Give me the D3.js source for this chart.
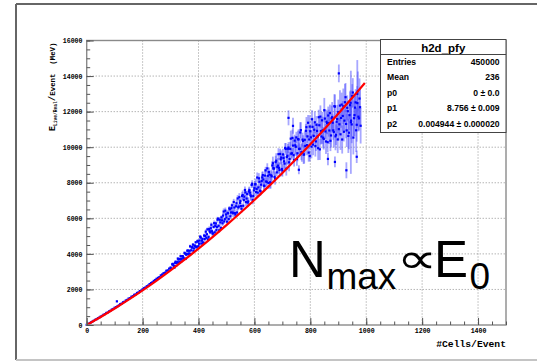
<!DOCTYPE html>
<html>
<head>
<meta charset="utf-8">
<script src="https://cdn.jsdelivr.net/npm/d3@7"></script>
<style>
  body { margin: 0; background: #fff; }
  text { white-space: pre; }
</style>
</head>
<body>
<div id="chart"></div>
<script>
// profile bins: cells per event, mean energy, error on mean
const cells = [0,5,10,15,20,25,30,35,40,45,50,55,60,65,70,75,80,85,90,95,
  100,105,110,115,120,125,130,135,140,145,150,155,160,165,170,175,180,185,190,195,
  200,205,210,215,220,225,230,235,240,245,250,255,260,265,270,275,280,285,290,295,
  300,304,308,312,316,320,324,328,332,336,340,344,348,352,356,360,364,368,372,376,
  380,384,388,392,396,400,404,408,412,416,420,424,428,432,436,440,444,448,452,456,
  460,464,468,472,476,480,484,488,492,496,500,504,508,512,516,520,524,528,532,536,
  540,544,548,552,556,560,564,568,572,576,580,584,588,592,596,600,604,608,612,616,
  620,624,628,632,636,640,644,648,652,656,660,664,668,672,676,680,684,688,692,696,
  700,704,708,712,716,720,724,728,732,736,740,744,748,752,756,760,764,768,772,776,
  780,784,788,792,796,800,804,808,812,816,820,824,828,832,836,840,844,848,852,856,
  860,864,868,872,876,880,884,888,892,896,900,904,908,912,916,920,924,928,932,936,
  940,944,948,952,956,960,964,968,972,976,980,
  108,722,738,759,798,863,888,902,929,945,966,968];
const energy = [10,50,92,148,186,238,290,326,384,418,478,512,574,612,678,702,768,804,872,902,
  972,1004,1052,1102,1174,1206,1278,1306,1380,1412,1488,1512,1590,1622,1698,1722,1802,1830,1908,1936,
  2010,2070,2110,2180,2220,2300,2360,2400,2480,2530,2600,2650,2690,2790,2840,2910,2940,3050,3070,3170,
  3230,3164,3435,3321,3495,3329,3538,3684,3563,3870,3719,3861,3723,4014,3955,4177,3989,4174,4003,4352,
  4519,4305,4442,4374,4710,4433,4748,4917,4740,4626,5029,5010,4906,5381,4952,5270,5442,5275,5145,5728,
  5574,5335,5920,5578,5919,5462,5886,6154,5824,6430,6047,6299,5958,6512,6329,6728,6288,6605,6213,6850,
  7117,6656,6868,6688,7254,6705,7218,7462,7115,6886,7509,7440,7240,7936,7256,7696,7920,7654,7445,8248,
  7555,7891,8300,8185,7821,8697,8044,8392,8605,8020,8419,8972,8824,8334,9160,8582,8962,8839,9620,9418,
  8690,9392,9076,9903,9446,9910,9150,9905,9634,10525,9550,10369,10022,9335,10450,9900,10828,9721,10429,9584,
  10416,10921,10114,11374,10436,10895,10032,11144,10635,11399,10326,10916,9942,11234,11720,10600,10952,10464,11610,10322,
  11348,11782,10940,10360,11622,11378,10852,12284,10697,11581,11976,11286,10724,12396,11756,10867,12528,11308,12216,10635,
  11802,12499,11280,13075,11630,12225,10950,12480,11715,12735,11205,
  1330,11650,11200,8730,9500,9340,9170,14150,8700,11400,9460,13000];
const energyErr = [15,15,15,18,18,18,20,20,20,20,22,22,22,22,24,24,24,25,25,25,
  26,26,26,26,28,28,28,28,30,30,30,30,32,32,32,32,34,34,34,34,
  36,36,36,36,38,38,40,40,40,42,42,44,44,46,46,48,48,50,50,52,
  55,46,70,54,67,44,84,66,58,79,71,58,89,68,85,55,105,82,71,98,
  87,71,108,83,102,67,126,100,87,121,107,87,134,103,129,83,157,124,107,148,
  131,106,163,124,155,100,189,148,128,175,155,126,193,149,185,120,226,177,154,212,
  187,152,232,177,220,142,268,209,181,248,219,178,270,206,255,165,312,244,212,291,
  258,210,320,245,304,197,372,290,251,344,304,247,376,286,354,229,432,336,290,397,
  350,285,434,330,410,265,500,391,337,462,408,331,504,383,474,306,576,449,386,529,
  466,378,574,435,538,350,660,516,445,612,540,438,667,508,629,406,764,596,513,704,
  620,502,763,580,717,462,868,676,581,796,700,572,876,671,836,543,1027,805,697,960,
  850,692,1056,806,1001,648,1222,955,825,1133,1000,
  40,420,450,250,300,350,300,500,450,2900,350,1900];

// the in-between bins of the upper range
const cellsMid = [302,306,310,314,318,322,326,330,334,338,342,346,350,354,358,362,366,370,374,378,
  382,386,390,394,398,402,406,410,414,418,422,426,430,434,438,442,446,450,454,458,
  462,466,470,474,478,482,486,490,494,498,502,506,510,514,518,522,526,530,534,538,
  542,546,550,554,558,562,566,570,574,578,582,586,590,594,598,602,606,610,614,618,
  622,626,630,634,638,642,646,650,654,658,662,666,670,674,678,682,686,690,694,698,
  702,706,710,714,718,722,726,730,734,738,742,746,750,754,758,762,766,770,774,778,
  782,786,790,794,798,802,806,810,814,818,822,826,830,834,838,842,846,850,854,858,
  862,866,870,874,878,882,886,890,894,898,902,906,910,914,918,922,926,930,934,938,
  942,946,950,954,958,962,966,970,974,978];
const energyMid = [3171,3409,3360,3233,3557,3486,3736,3502,3716,3578,3870,3782,4060,3725,3998,4185,4020,4424,4201,4380,
  4163,4466,4652,4403,4702,4571,4968,4582,4845,4625,4831,5248,5104,4811,5391,5209,5639,5150,5512,5212,
  5713,5510,5974,5326,5770,6056,5718,6382,5952,6215,5811,6285,6558,6114,6570,6330,6918,6299,6676,6328,
  6613,7187,6964,6536,7305,7035,7589,6912,7371,6951,7589,7300,7878,7027,7572,7913,7475,8293,7737,8055,
  7519,8103,8432,7840,8404,8072,8807,7990,8462,8004,8360,9096,8794,8231,9239,8883,9607,8720,9318,8774,
  9591,9204,9959,8792,9520,9979,9334,10480,9654,10090,9281,10105,10550,9656,10438,9912,10959,9700,10349,9592,
  10072,11125,10607,9696,11157,10551,11572,10146,10982,10062,11259,10599,11685,9878,10904,11510,10536,12080,10887,11431,
  10281,11352,11915,10659,11685,10946,12306,10609,11431,10436,11016,12339,11644,10433,12300,11491,12812,10944,12024,10814,
  12363,11498,12880,10540,11800,12520,11260,13150,11620,12250];
const energyErrMid = [50,68,44,64,81,51,65,77,48,77,65,88,56,81,101,64,81,95,60,95,
  79,107,68,98,122,77,99,116,72,117,97,133,85,121,153,96,123,144,89,143,
  119,162,103,146,185,115,147,171,106,169,141,192,122,174,220,138,175,205,127,202,
  168,228,145,206,259,162,205,239,148,235,195,264,167,237,298,190,242,283,176,281,
  234,318,202,288,361,226,288,336,208,331,275,373,236,336,421,263,334,389,240,382,
  318,431,273,389,489,306,388,452,279,446,370,500,317,449,564,352,446,520,320,509,
  422,570,361,510,640,403,512,598,370,590,490,662,420,596,749,467,592,690,426,678,
  562,758,480,680,853,531,672,782,482,766,637,868,554,791,998,626,798,935,580,927,
  772,1048,666,948,1193,746,948,1107,685,1092];

// pol2 fit curve as drawn
const fitCells = [0,50,100,150,200,250,300,350,400,450,500,550,600,650,700,750,800,850,900,950,995];
const fitEnergy = [0,450,925,1425,1949,2498,3072,3670,4293,4941,5614,6311,7033,7780,8552,9348,10169,11015,11885,12780,13607];

const xTicks = [0,200,400,600,800,1000,1200,1400];
const yTicks = [0,2000,4000,6000,8000,10000,12000,14000,16000];
const statTitle = 'h2d_pfy';
const statNames = ['Entries','Mean','p0','p1','p2'];
const statValues = ['450000','236','0 \u00b1 0.0','8.756 \u00b1 0.009','0.004944 \u00b1 0.000020'];

const width = 537, height = 362;
const frame = { left: 86.7, right: 506, top: 40.5, bottom: 325 };
const monoFont = '"Liberation Mono", "DejaVu Sans Mono", monospace';
const sansFont = '"Liberation Sans", Arial, sans-serif';

const svg = d3.select('#chart').append('svg')
  .attr('width', width)
  .attr('height', height);

// canvas border
svg.append('rect').attr('width', width).attr('height', height).attr('fill', '#fff');
svg.append('line').attr('x1', 16).attr('x2', width).attr('y1', 4).attr('y2', 4)
  .attr('stroke', '#666').attr('stroke-width', 2);
svg.append('line').attr('x1', 16).attr('x2', 16).attr('y1', 4).attr('y2', 360)
  .attr('stroke', '#666').attr('stroke-width', 2);
svg.append('line').attr('x1', 16).attr('x2', width).attr('y1', 360).attr('y2', 360)
  .attr('stroke', '#c4c4c4').attr('stroke-width', 2);

const x = d3.scaleLinear().domain([0, 1500]).range([frame.left, frame.right]);
const y = d3.scaleLinear().domain([0, 16000]).range([frame.bottom, frame.top]);

// grid
const grid = svg.append('g').attr('stroke', '#777').attr('stroke-width', 0.8)
  .attr('stroke-dasharray', '1,2');
grid.selectAll('.gx').data(xTicks.slice(1)).enter().append('line')
  .attr('x1', d => x(d)).attr('x2', d => x(d))
  .attr('y1', frame.top).attr('y2', frame.bottom);
grid.selectAll('.gy').data(yTicks.slice(1)).enter().append('line')
  .attr('x1', frame.left).attr('x2', frame.right)
  .attr('y1', d => y(d)).attr('y2', d => y(d));

// profile points
const pts = cells.map((c, i) => ({ c: c, e: energy[i], err: energyErr[i] }))
  .concat(cellsMid.map((c, i) => ({ c: c, e: energyMid[i], err: energyErrMid[i] })));
const data = svg.append('g');
data.selectAll('.err').data(pts).enter().append('line')
  .attr('x1', d => x(d.c)).attr('x2', d => x(d.c))
  .attr('y1', d => y(d.e - d.err)).attr('y2', d => y(d.e + d.err))
  .attr('stroke', '#5050ff').attr('stroke-opacity', 0.5).attr('stroke-width', 1.8);
data.selectAll('.pt').data(pts).enter().append('rect')
  .attr('x', d => x(d.c) - 1.1).attr('y', d => y(d.e) - 1.1)
  .attr('width', 2.2).attr('height', 2.2)
  .attr('fill', '#0000ff');

// fit
const line = d3.line().x(d => x(d[0])).y(d => y(d[1])).curve(d3.curveCatmullRom);
svg.append('path')
  .datum(fitCells.map((c, i) => [c, fitEnergy[i]]))
  .attr('d', line)
  .attr('fill', 'none')
  .attr('stroke', '#ff0000')
  .attr('stroke-width', 2.2);

// frame
svg.append('rect')
  .attr('x', frame.left).attr('y', frame.top)
  .attr('width', frame.right - frame.left).attr('height', frame.bottom - frame.top)
  .attr('fill', 'none').attr('stroke', '#8a8a8a').attr('stroke-width', 1.4);

// axes, ROOT style ticks inside the frame
function styleAxis(g) {
  g.select('.domain').remove();
  g.selectAll('.tick line').attr('stroke', '#555');
  g.selectAll('text')
    .attr('font-family', monoFont)
    .attr('font-weight', 'bold')
    .attr('font-size', '6.6px')
    .attr('fill', '#000');
}

svg.append('g')
  .attr('transform', `translate(0,${frame.bottom})`)
  .call(d3.axisBottom(x).tickValues(d3.range(0, 1501, 50)).tickSize(-3.5).tickFormat(''))
  .call(styleAxis);
svg.append('g')
  .attr('transform', `translate(0,${frame.bottom})`)
  .call(d3.axisBottom(x).tickValues(xTicks).tickSize(-7).tickPadding(3).tickFormat(d3.format('d')))
  .call(styleAxis);

svg.append('g')
  .attr('transform', `translate(${frame.left},0)`)
  .call(d3.axisLeft(y).tickValues(d3.range(0, 16001, 500)).tickSize(-3.5).tickFormat(''))
  .call(styleAxis);
svg.append('g')
  .attr('transform', `translate(${frame.left},0)`)
  .call(d3.axisLeft(y).tickValues(yTicks).tickSize(-7).tickPadding(4.2).tickFormat(d3.format('d')))
  .call(styleAxis);

// axis titles
svg.append('text')
  .attr('x', frame.right).attr('y', 347)
  .attr('text-anchor', 'end')
  .attr('font-family', monoFont).attr('font-weight', 'bold').attr('font-size', '9.7px')
  .text('#Cells/Event');

const yTitle = svg.append('text')
  .attr('transform', `translate(55,${frame.top + 2}) rotate(-90)`)
  .attr('text-anchor', 'end')
  .attr('font-family', monoFont).attr('font-weight', 'bold').attr('font-size', '7.4px');
yTitle.append('tspan').attr('font-size', '8.4px').text('E');
yTitle.append('tspan').attr('dy', 2).attr('font-size', '4.6px').text('Live/Real');
yTitle.append('tspan').attr('dy', -2).attr('font-size', '9px').text('/');
yTitle.append('tspan').text('Event  (MeV)');

// stats box
const box = { x: 380.5, y: 39.5, w: 125.5, h: 93 };
const stats = svg.append('g');
stats.append('rect')
  .attr('x', box.x).attr('y', box.y).attr('width', box.w).attr('height', box.h)
  .attr('fill', '#fff').attr('stroke', '#444').attr('stroke-width', 1);
stats.append('line')
  .attr('x1', box.x).attr('x2', box.x + box.w).attr('y1', 54.5).attr('y2', 54.5)
  .attr('stroke', '#444').attr('stroke-width', 1);
stats.append('text')
  .attr('x', box.x + box.w / 2).attr('y', 51.5)
  .attr('text-anchor', 'middle')
  .attr('font-family', sansFont).attr('font-weight', 'bold').attr('font-size', '11.5px')
  .text(statTitle);
statNames.forEach((n, i) => {
  const ty = 65 + i * 15.4;
  stats.append('text')
    .attr('x', 387).attr('y', ty)
    .attr('font-family', sansFont).attr('font-weight', 'bold').attr('font-size', '8.6px')
    .text(n);
  stats.append('text')
    .attr('x', 499.5).attr('y', ty)
    .attr('text-anchor', 'end')
    .attr('font-family', sansFont).attr('font-weight', 'bold').attr('font-size', '8.6px')
    .text(statValues[i]);
});

// annotation
const note = svg.append('text').attr('font-family', sansFont).attr('fill', '#000');
note.append('tspan').attr('x', 289).attr('y', 276.7).attr('font-size', '51px').text('N');
note.append('tspan').attr('x', 326.4).attr('y', 289).attr('font-size', '37px').text('max');
note.append('tspan').attr('x', 434).attr('y', 276.7).attr('font-size', '51px').text('E');
note.append('tspan').attr('x', 469.5).attr('y', 289).attr('font-size', '37px').text('0');
svg.append('text')
  .attr('transform', 'translate(396.5,273) scale(1.35,1)')
  .attr('font-family', '"DejaVu Sans", sans-serif').attr('font-size', '42px')
  .text('\u221d');
</script>
</body>
</html>
